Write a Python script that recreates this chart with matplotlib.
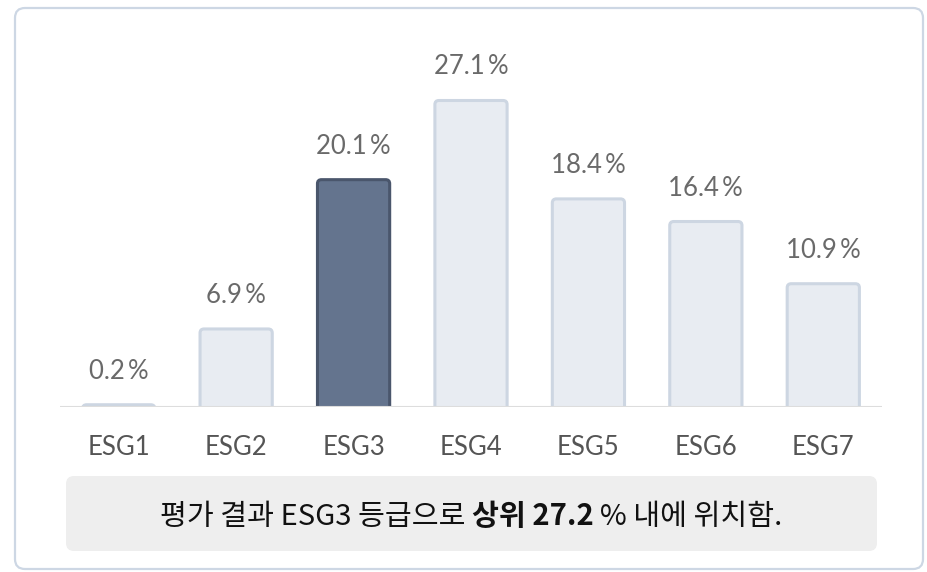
import matplotlib.pyplot as plt
from matplotlib.patches import FancyBboxPatch

# data
grades = ["ESG1", "ESG2", "ESG3", "ESG4", "ESG5", "ESG6", "ESG7"]
shares = [0.2, 6.9, 20.1, 27.1, 18.4, 16.4, 10.9]
current = "ESG3"
summary_parts = [("평가 결과 ESG3 등급으로 ", "normal"),
                 ("상위 27.2", "bold"),
                 ("\u2009% 내에 위치함.", "normal")]

W, H, DPI = 927, 572, 100
fig = plt.figure(figsize=(W / DPI, H / DPI), dpi=DPI)
fig.patch.set_facecolor("white")

# card outline (inches, so corners stay round)
card = FancyBboxPatch((0.15, 0.03), 9.08, 5.61, boxstyle="round,pad=0,rounding_size=0.1",
                      transform=fig.dpi_scale_trans, facecolor="none",
                      edgecolor="#cdd7e4", linewidth=1.6, zorder=-1)
fig.patches.append(card)

# bar axes: baseline at y=407px, top at 40px
base_px, top_px = 407, 40
ax = fig.add_axes([60 / W, (H - base_px) / H, 822 / W, (base_px - top_px) / H])
px_per_unit = 11.31
ax.set_xlim(-0.5, len(grades) - 0.5)
ax.set_ylim(0, (base_px - top_px) / px_per_unit)
ax.axis("off")

x_px = 822 / len(grades)
bar_w = 0.615
r_x = 4 / x_px
aspect = x_px / px_per_unit

for i, (g, v) in enumerate(zip(grades, shares)):
    if g == current:
        fc, ec = "#64748e", "#4a566c"
    else:
        fc, ec = "#e8ecf2", "#cdd6e2"
    bar = FancyBboxPatch((i - bar_w / 2, -2), bar_w, v + 2,
                         boxstyle=f"round,pad=0,rounding_size={r_x}",
                         mutation_aspect=aspect, facecolor=fc, edgecolor=ec,
                         linewidth=2.2, zorder=2)
    ax.add_patch(bar)
    ax.annotate(f"{v}\u2009%", (i, v), xytext=(0, 26), textcoords="offset pixels",
                ha="center", va="baseline", fontsize=18.5, color="#6a6a6a",
                family=["Lato", "DejaVu Sans"], annotation_clip=False)
    ax.annotate(g, (i, 0), xytext=(0, -48), textcoords="offset pixels",
                ha="center", va="baseline", fontsize=18.5, color="#555555",
                family=["Lato", "DejaVu Sans"], annotation_clip=False)

ax.axhline(0, color="#dddddd", linewidth=1.5, zorder=3)

# summary box
box = FancyBboxPatch((0.66, 0.21), 8.11, 0.75, boxstyle="round,pad=0,rounding_size=0.08",
                     transform=fig.dpi_scale_trans, facecolor="#eeeeee", edgecolor="none",
                     zorder=-1)
fig.patches.append(box)

fam = ["Noto Sans CJK KR", "DejaVu Sans"]
renderer = fig.canvas.get_renderer()
pieces = []
for s, wt in summary_parts:
    t = fig.text(0, (H - 525) / H, s, fontsize=21, fontweight=wt, family=fam,
                 color="#111111", ha="left", va="baseline")
    pieces.append(t)
widths = [t.get_window_extent(renderer).width for t in pieces]
x0 = 471.5 - sum(widths) / 2
for t, w in zip(pieces, widths):
    t.set_x(x0 / W)
    x0 += w

fig.savefig("out.png", dpi=DPI)
